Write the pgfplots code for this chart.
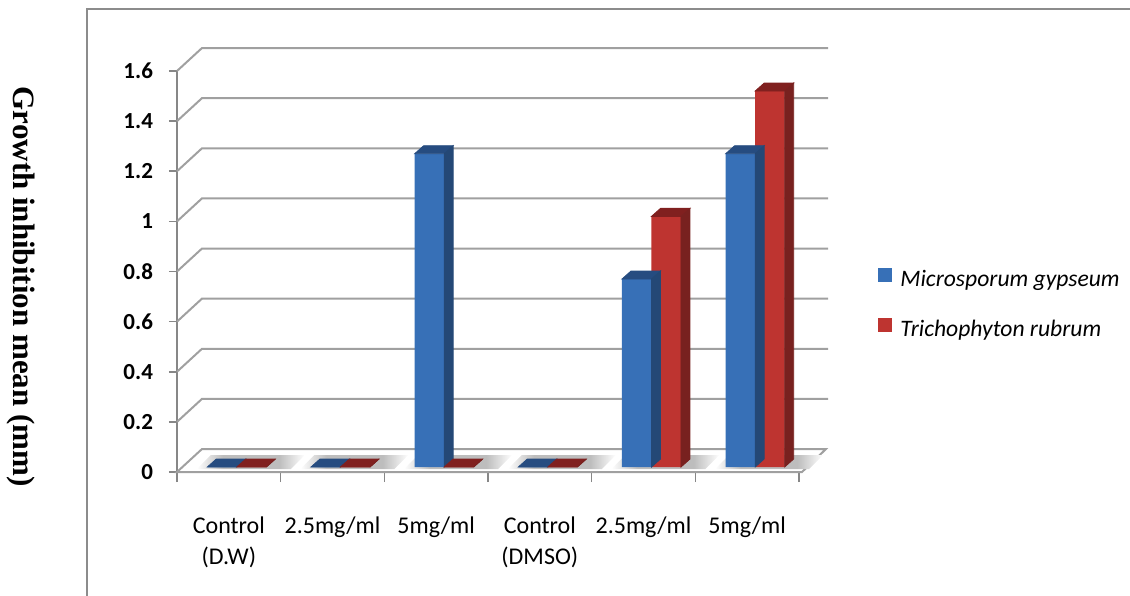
\documentclass[border=0pt]{standalone}
\usepackage{pgfplots}
\pgfplotsset{compat=1.18}
\usepackage{pgfplotstable}
\usepackage{fontspec}
\setmainfont{Carlito}
\newfontfamily\labelserif{Liberation Serif}

\definecolor{blueF}{RGB}{55,112,183}
\definecolor{blueS}{RGB}{36,72,118}
\definecolor{blueT}{RGB}{38,76,128}
\definecolor{redF}{RGB}{190,52,48}
\definecolor{redS}{RGB}{120,33,31}
\definecolor{redT}{RGB}{128,32,31}
\definecolor{gridc}{RGB}{160,160,160}
\definecolor{axisc}{RGB}{135,135,135}
\definecolor{framec}{RGB}{140,140,140}

% soft shadow under each group of bars on the floor
\pgfdeclarehorizontalshading{floorshadow}{100bp}{color(0bp)=(white); color(25bp)=(white); color(37bp)=(black!26); color(63bp)=(black!26); color(75bp)=(white); color(100bp)=(white)}

\pgfplotstableread{
idx mgyp trub
0 0 0
1 0 0
2 1.25 0
3 0 0
4 0.75 1
5 1.25 1.5
}\inhib

% top and side faces of a bar, drawn at the bar's top
% #1 left edge of the bar, #2 top colour, #3 side colour
\pgfplotsset{
  barfaces/.style n args={3}{
    only marks, forget plot, mark=*, mark size=0pt,
    mark options={draw=none,fill=none},
    visualization depends on={rawy \as \barval},
    scatter,
    scatter/@pre marker code/.code={%
      \fill[#2] (#1,0pt) -- ++(14.75pt,0pt) -- ++(4.5pt,4pt) -- ++(-14.75pt,0pt) -- cycle;
      \fill[#3] (#1+14.75pt,0pt) -- ++(4.5pt,4pt) -- ++(axis direction cs:0,-\barval) -- ++(-4.5pt,-4pt) -- cycle;
    },
    scatter/@post marker code/.code={},
  },
}

\begin{document}
\begin{tikzpicture}
\begin{axis}[
  scale only axis, width=311pt, height=200.5pt,
  xmin=-0.5, xmax=5.5, ymin=0, ymax=1.6,
  clip=false,
  axis x line*=bottom, axis y line*=left,
  axis line style={axisc, line width=0.8pt},
  xtick={0,1,2,3,4,5},
  xticklabels={{Control\\(D.W)},{2.5mg/ml},{5mg/ml},{Control\\(DMSO)},{2.5mg/ml},{5mg/ml}},
  major x tick style={draw=none},
  minor xtick={-0.5,0.5,1.5,2.5,3.5,4.5,5.5},
  ytick={0,0.2,0.4,0.6,0.8,1,1.2,1.4,1.6},
  yticklabels={0,0.2,0.4,0.6,0.8,1,1.2,1.4,1.6},
  tick align=outside,
  tick style={axisc, line width=0.8pt},
  major tick length=4pt, minor tick length=5pt,
  xticklabel style={align=center, anchor=north, yshift=-15pt, font=\fontsize{12}{15.5}\selectfont},
  yticklabel style={xshift=-4.5pt, font=\fontsize{11.5}{13}\selectfont\bfseries},
  every axis y label/.style={at={(axis description cs:-0.2508,0.462)}, anchor=center, rotate=-90,
    font=\labelserif\bfseries\fontsize{15.5}{18}\selectfont},
  ylabel={Growth inhibition mean (mm)},
  legend style={at={(axis description cs:1.127,0.416)}, anchor=west, draw=none, fill=none,
    inner sep=0pt, row sep=12.2pt, font=\fontsize{11.8}{13}\selectfont\itshape,
    nodes={inner sep=1.5pt},
    /tikz/every odd column/.append style={column sep=2.5pt}},
  legend cell align=left,
]
\coordinate (O) at (rel axis cs:0,0);

% floor
\draw[gridc, line width=1pt] (axis cs:-0.5,0) -- ++(12.5pt,11.5pt) -- ++(312pt,0pt) -- ++(-12pt,-11.5pt) -- cycle;
\pgfplotsinvokeforeach{0,1,2,3,4,5}{
  \shade[shading=floorshadow] ([xshift=-16pt,yshift=1.5pt]axis cs:#1,0) -- ++(47pt,0pt) -- ++(7pt,7pt) -- ++(-47pt,0pt) -- cycle;
}
% side wall and back wall grid lines
\pgfplotsinvokeforeach{0.2,0.4,0.6,0.8,1,1.2,1.4,1.6}{
  \draw[gridc, line width=1pt] (axis cs:-0.5,#1) -- ++(12.5pt,11.5pt) -- ++(313pt,0pt);
}

\addplot[ybar, bar width=14.75pt, bar shift=-7.375pt, fill=blueF, draw=none, xshift=4pt, yshift=2.5pt,
  legend image code/.code={\fill[blueF] (0pt,-3.5pt) rectangle (7pt,3.5pt);}]
  table[x=idx, y=mgyp] {\inhib};
\addlegendentry{Microsporum gypseum}
\addplot[barfaces={-14.75pt}{blueT}{blueS}, xshift=4pt, yshift=2.5pt]
  table[x=idx, y=mgyp] {\inhib};

\addplot[ybar, bar width=14.75pt, bar shift=7.375pt, fill=redF, draw=none, xshift=4pt, yshift=2.5pt,
  legend image code/.code={\fill[redF] (0pt,-3.5pt) rectangle (7pt,3.5pt);}]
  table[x=idx, y=trub] {\inhib};
\addlegendentry{Trichophyton rubrum}
\addplot[barfaces={0pt}{redT}{redS}, xshift=4pt, yshift=2.5pt]
  table[x=idx, y=trub] {\inhib};
\end{axis}

\pgfresetboundingbox
\path[use as bounding box] ([xshift=-88.5pt,yshift=-61.5pt]O) rectangle ++(565pt,297.5pt);
\draw[framec, line width=0.9pt] ([xshift=-45pt,yshift=-62pt]O) -- ([xshift=-45pt,yshift=231.5pt]O) -- ([xshift=477pt,yshift=231.5pt]O);
\end{tikzpicture}
\end{document}
